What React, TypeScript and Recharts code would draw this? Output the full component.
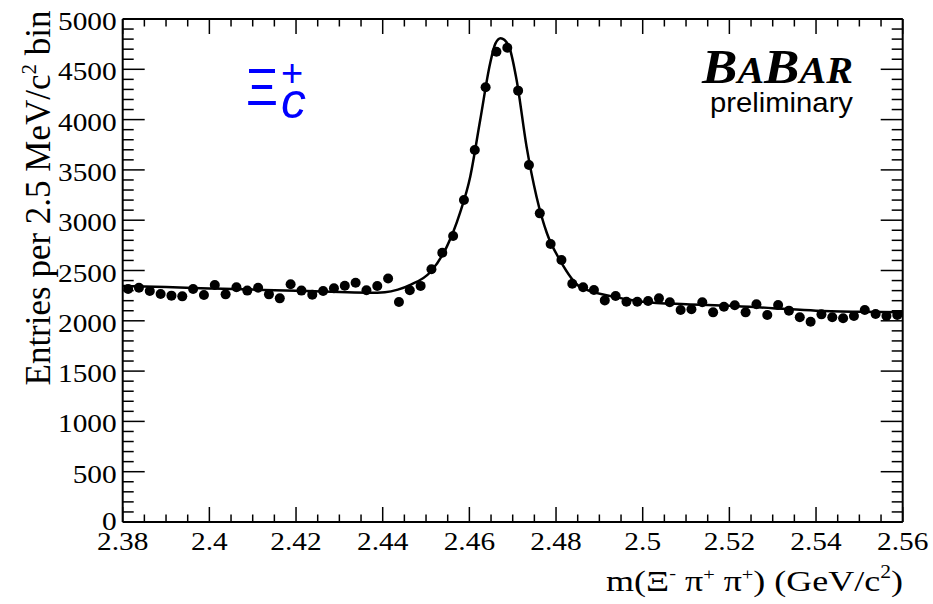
import React from 'react';
import { ScatterChart, Scatter, XAxis, YAxis, Customized } from 'recharts';

// Bin centres of m(Xi- pi+ pi+) in GeV/c^2 (2.5 MeV bins)
const massBins = [
  2.38125, 2.38375, 2.38625, 2.38875, 2.39125, 2.39375, 2.39625, 2.39875,
  2.40125, 2.40375, 2.40625, 2.40875, 2.41125, 2.41375, 2.41625, 2.41875,
  2.42125, 2.42375, 2.42625, 2.42875, 2.43125, 2.43375, 2.43625, 2.43875,
  2.44125, 2.44375, 2.44625, 2.44875, 2.45125, 2.45375, 2.45625, 2.45875,
  2.46125, 2.46375, 2.46625, 2.46875, 2.47125, 2.47375, 2.47625, 2.47875,
  2.48125, 2.48375, 2.48625, 2.48875, 2.49125, 2.49375, 2.49625, 2.49875,
  2.50125, 2.50375, 2.50625, 2.50875, 2.51125, 2.51375, 2.51625, 2.51875,
  2.52125, 2.52375, 2.52625, 2.52875, 2.53125, 2.53375, 2.53625, 2.53875,
  2.54125, 2.54375, 2.54625, 2.54875, 2.55125, 2.55375, 2.55625, 2.55875,
];

// Entries per bin
const entries = [
  2316, 2329, 2296, 2266, 2250, 2243, 2316, 2256,
  2356, 2263, 2333, 2300, 2329, 2263, 2223, 2364,
  2300, 2260, 2296, 2323, 2349, 2379, 2303, 2346,
  2420, 2187, 2303, 2347, 2512, 2677, 2843, 3201,
  3698, 4321, 4675, 4715, 4288, 3549, 3068, 2763,
  2604, 2368, 2333, 2306, 2203, 2247, 2190, 2190,
  2197, 2223, 2184, 2107, 2114, 2184, 2084, 2140,
  2155, 2084, 2164, 2058, 2157, 2101, 2035, 1991,
  2064, 2035, 2025, 2048, 2107, 2068, 2048, 2058,
];

// Fit curve
const fitMass = [
  2.38, 2.39, 2.4, 2.41, 2.42, 2.43, 2.437, 2.4405, 2.4435, 2.4465, 2.4509,
  2.4548, 2.4578, 2.4602, 2.4625, 2.4648, 2.466, 2.4672, 2.469, 2.4709,
  2.4732, 2.4755, 2.4779, 2.4809, 2.4855, 2.4932, 2.5, 2.51, 2.52, 2.53,
  2.54, 2.55, 2.56,
];
const fitEntries = [
  2345, 2335, 2322, 2310, 2298, 2286, 2280, 2285, 2310, 2360, 2480,
  2737, 3068, 3433, 3996, 4560, 4755, 4808, 4742, 4394,
  3731, 3234, 2870, 2604, 2339, 2240, 2190, 2165, 2150, 2125,
  2100, 2090, 2085,
];

const xMajorTicks = [2.38, 2.4, 2.42, 2.44, 2.46, 2.48, 2.5, 2.52, 2.54, 2.56];
const xTickLabels = ['2.38', '2.4', '2.42', '2.44', '2.46', '2.48', '2.5', '2.52', '2.54', '2.56'];
const yMajorTicks = [0, 500, 1000, 1500, 2000, 2500, 3000, 3500, 4000, 4500, 5000];
const yTickLabels = ['0', '500', '1000', '1500', '2000', '2500', '3000', '3500', '4000', '4500', '5000'];

const points = massBins.map((m, i) => ({ x: m, y: entries[i] }));
const fitData = fitMass.map((m, i) => ({ x: m, y: fitEntries[i] }));

function withMinor(majors: number[], n: number): number[] {
  const out: number[] = [];
  for (let i = 0; i < majors.length; i++) {
    out.push(majors[i]);
    if (i < majors.length - 1) {
      const step = (majors[i + 1] - majors[i]) / n;
      for (let k = 1; k < n; k++) out.push(+(majors[i] + k * step).toFixed(6));
    }
  }
  return out;
}
const xAllTicks = withMinor(xMajorTicks, 4);
const yAllTicks = withMinor(yMajorTicks, 5);

function majorIndex(majors: number[], v: number): number {
  return majors.findIndex((m) => Math.abs(m - v) < 1e-7 * Math.max(1, Math.abs(m)));
}

const SERIF = '"Liberation Serif", "Times New Roman", serif';
const SANS = '"Liberation Sans", Arial, sans-serif';
const TICK_W = 1.5;
const SX = 1.13;

const BottomTick = (props: any) => {
  const { x, y, payload } = props;
  const idx = majorIndex(xMajorTicks, payload.value);
  const major = idx >= 0;
  return (
    <g>
      <line x1={x} x2={x} y1={y} y2={y - (major ? 15 : 7.5)} stroke="#000" strokeWidth={TICK_W} />
      {major && (
        <text
          transform={`translate(${x},${y + 28}) scale(${SX},1)`}
          textAnchor="middle"
          fontFamily={SERIF}
          fontSize={26}
          fill="#000"
        >
          {xTickLabels[idx]}
        </text>
      )}
    </g>
  );
};

const TopTick = (props: any) => {
  const { x, y, payload } = props;
  const major = majorIndex(xMajorTicks, payload.value) >= 0;
  return <line x1={x} x2={x} y1={y} y2={y + (major ? 15 : 7.5)} stroke="#000" strokeWidth={TICK_W} />;
};

const LeftTick = (props: any) => {
  const { x, y, payload } = props;
  const idx = majorIndex(yMajorTicks, payload.value);
  const major = idx >= 0;
  return (
    <g>
      <line x1={x} x2={x + (major ? 22 : 11)} y1={y} y2={y} stroke="#000" strokeWidth={TICK_W} />
      {major && (
        <text
          transform={`translate(${x - 6},${y + (payload.value === 0 ? 8 : 11)}) scale(${SX},1)`}
          textAnchor="end"
          fontFamily={SERIF}
          fontSize={26}
          fill="#000"
        >
          {yTickLabels[idx]}
        </text>
      )}
    </g>
  );
};

const RightTick = (props: any) => {
  const { x, y, payload } = props;
  const major = majorIndex(yMajorTicks, payload.value) >= 0;
  return <line x1={x} x2={x - (major ? 22 : 11)} y1={y} y2={y} stroke="#000" strokeWidth={TICK_W} />;
};

const Dot = (props: any) => {
  const { cx, cy } = props;
  if (cx == null || cy == null) return <g />;
  return <circle cx={cx} cy={cy} r={5} fill="#000" />;
};

const NoDot = () => <g />;

const Annotations = () => (
  <g>
    {/* Y axis title */}
    <text
      transform="translate(50,198) rotate(-90)"
      textAnchor="middle"
      fontFamily={SERIF}
      fontSize={35}
      fill="#000"
    >
      Entries per 2.5 MeV/c<tspan fontSize={21} dy={-14}>2</tspan>
      <tspan dy={14}> bin</tspan>
    </text>
    {/* X axis title */}
    <text
      transform="translate(903,591) scale(1.2,1)"
      textAnchor="end"
      fontFamily={SERIF}
      fontSize={30}
      fill="#000"
    >
      m(Ξ<tspan fontSize={17} dy={-12}>-</tspan>
      <tspan dy={12}> π</tspan>
      <tspan fontSize={17} dy={-11}>+</tspan>
      <tspan dy={11}> π</tspan>
      <tspan fontSize={17} dy={-11}>+</tspan>
      <tspan dy={11}>) (GeV/c</tspan>
      <tspan fontSize={18} dy={-13}>2</tspan>
      <tspan dy={13}>)</tspan>
    </text>
    {/* Xi_c+ label */}
    <text x={246} y={105} fontFamily={SANS} fontSize={52} fill="#0000ff" textLength={32} lengthAdjust="spacingAndGlyphs">
      Ξ
    </text>
    <text x={281} y={86} fontFamily={SANS} fontSize={38} fill="#0000ff">
      +
    </text>
    <text x={281} y={118} fontFamily={SANS} fontStyle="italic" fontSize={50} fill="#0000ff">
      c
    </text>
    {/* BaBar logo */}
    <text
      x={702}
      y={83}
      fontFamily={SERIF}
      fontWeight="bold"
      fontStyle="italic"
      fontSize={49}
      fill="#000"
      textLength={151}
      lengthAdjust="spacingAndGlyphs"
    >
      B<tspan fontSize={37}>A</tspan>B<tspan fontSize={37}>AR</tspan>
    </text>
    <text x={710} y={112} fontFamily={SANS} fontSize={28} fill="#000" textLength={143} lengthAdjust="spacingAndGlyphs">
      preliminary
    </text>
  </g>
);

export default function App() {
  return (
    <div style={{ position: 'absolute', left: 0, top: 0, width: 933, height: 604, background: '#fff' }}>
      <ScatterChart
        width={933}
        height={604}
        margin={{ top: 14, right: 20.3, bottom: 42, left: 62.7 }}
      >
        <XAxis
          xAxisId={0}
          type="number"
          dataKey="x"
          domain={[2.38, 2.56]}
          allowDataOverflow
          ticks={xAllTicks}
          interval={0}
          tickSize={0}
          tickMargin={0}
          tickLine={false}
          axisLine={{ stroke: '#000', strokeWidth: 2 }}
          tick={<BottomTick />}
          height={40}
        />
        <XAxis
          xAxisId="top"
          orientation="top"
          type="number"
          dataKey="x"
          domain={[2.38, 2.56]}
          allowDataOverflow
          ticks={xAllTicks}
          interval={0}
          tickSize={0}
          tickMargin={0}
          tickLine={false}
          axisLine={{ stroke: '#000', strokeWidth: 2 }}
          tick={<TopTick />}
          height={5}
        />
        <YAxis
          yAxisId={0}
          type="number"
          dataKey="y"
          domain={[0, 5000]}
          allowDataOverflow
          ticks={yAllTicks}
          interval={0}
          tickSize={0}
          tickMargin={0}
          tickLine={false}
          axisLine={{ stroke: '#000', strokeWidth: 2 }}
          tick={<LeftTick />}
          width={60}
        />
        <YAxis
          yAxisId="right"
          orientation="right"
          type="number"
          dataKey="y"
          domain={[0, 5000]}
          allowDataOverflow
          ticks={yAllTicks}
          interval={0}
          tickSize={0}
          tickMargin={0}
          tickLine={false}
          axisLine={{ stroke: '#000', strokeWidth: 2 }}
          tick={<RightTick />}
          width={10}
        />
        <Scatter
          data={fitData}
          xAxisId={0}
          yAxisId={0}
          line={{ stroke: '#000', strokeWidth: 2.5 }}
          lineType="joint"
          lineJointType="monotoneX"
          shape={<NoDot />}
          isAnimationActive={false}
        />
        <Scatter
          data={points}
          xAxisId={0}
          yAxisId={0}
          shape={<Dot />}
          isAnimationActive={false}
        />
        <Customized component={<Annotations />} />
      </ScatterChart>
    </div>
  );
}
